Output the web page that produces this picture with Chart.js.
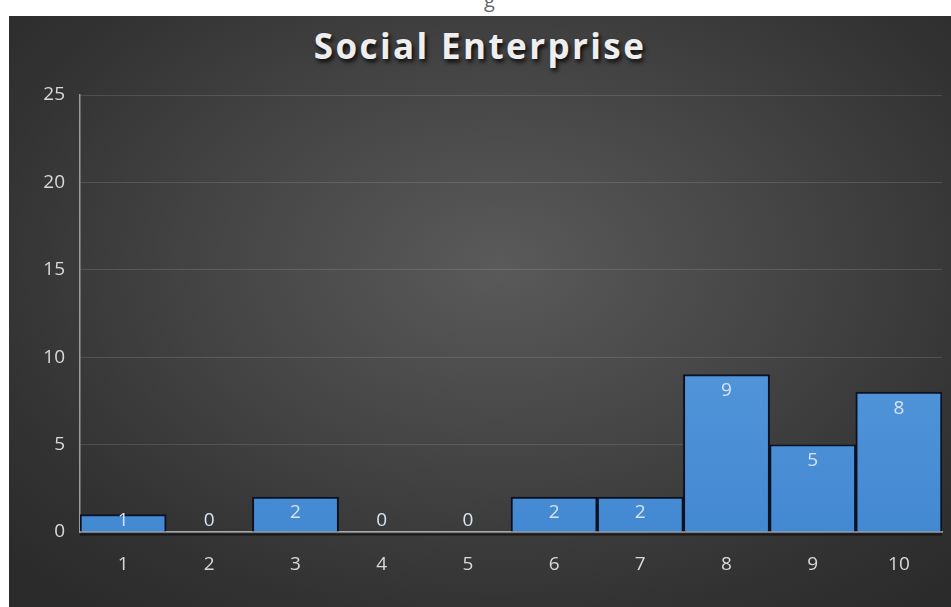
<!DOCTYPE html>
<html>
<head>
<meta charset="utf-8">
<script src="https://cdn.jsdelivr.net/npm/chart.js@4"></script>
<style>
  html, body { margin: 0; padding: 0; background: #fff; width: 951px; height: 607px; overflow: hidden; }
  #stray { position: absolute; left: 484px; top: -14px; font: 20px "Open Sans", sans-serif; color: #666; }
  #panel {
    position: absolute; left: 9px; top: 16px; width: 942px; height: 591px;
    background: radial-gradient(ellipse 70% 75% at 52% 42%, #5a5a5a 0%, #444 45%, #323232 80%, #2b2b2b 100%);
  }
  #title {
    position: absolute; left: 0; width: 100%; top: 6px; text-align: center;
    font: bold 35px "Open Sans", sans-serif; letter-spacing: 2.4px; color: #eeeeee;
    text-shadow: 2px 3px 4px rgba(0,0,0,0.85);
  }
  #wrap { position: absolute; left: 0; top: 0; width: 942px; height: 591px; }
</style>
</head>
<body>
<span id="stray">g</span>
<div id="panel">
  <div id="title">Social Enterprise</div>
  <div id="wrap"><canvas id="c"></canvas></div>
</div>
<script>
// ── Data ──────────────────────────────────────────────────────────────────────
const categories = ["1", "2", "3", "4", "5", "6", "7", "8", "9", "10"];
const counts     = [1, 0, 2, 0, 0, 2, 2, 9, 5, 8];
const yTicks     = [0, 5, 10, 15, 20, 25];

const TICK_COLOR = "#d9d9d9";
const TICK_FONT  = { size: 19, family: "'Open Sans', sans-serif" };

// ── Value labels inside bar tops (no datalabels plugin available) ────────────
const valueLabels = {
  id: "valueLabels",
  afterDatasetsDraw(chart) {
    const ctx = chart.ctx;
    const meta = chart.getDatasetMeta(0);
    ctx.save();
    // faint shadow under the category axis
    const a = chart.chartArea;
    ctx.strokeStyle = "rgba(0,0,0,0.55)";
    ctx.lineWidth = 2;
    ctx.beginPath();
    ctx.moveTo(a.left, a.bottom + 2.5);
    ctx.lineTo(a.right, a.bottom + 2.5);
    ctx.stroke();

    ctx.font = "19px 'Open Sans', sans-serif";
    ctx.fillStyle = "#d6e4f3";
    ctx.textAlign = "center";
    ctx.textBaseline = "middle";
    meta.data.forEach((bar, i) => {
      const y = Math.min(bar.y + 16, bar.base - 11);
      ctx.fillText(String(counts[i]), bar.x, y);
    });
    ctx.restore();
  }
};

new Chart(document.getElementById("c").getContext("2d"), {
  type: "bar",
  data: {
    labels: categories,
    datasets: [{
      data: counts,
      backgroundColor: ctx => {
        const area = ctx.chart.chartArea;
        if (!area) return "#4f94da";
        const g = ctx.chart.ctx.createLinearGradient(0, area.top, 0, area.bottom);
        g.addColorStop(0, "#68a6e6");
        g.addColorStop(1, "#4389d2");
        return g;
      },
      borderColor: "#0b1120",
      borderWidth: 2,
      barPercentage: 1,
      categoryPercentage: 1,
    }],
  },
  options: {
    responsive: true,
    maintainAspectRatio: false,
    animation: false,
    layout: { padding: { top: 79, right: 9, left: 0, bottom: 0 } },
    plugins: {
      legend: { display: false },
      tooltip: { enabled: false },
    },
    scales: {
      x: {
        grid: { display: false, drawTicks: false },
        border: { display: true, color: "#a8a8a8", width: 1.5 },
        ticks: { color: TICK_COLOR, font: TICK_FONT, padding: 21 },
        afterFit: s => { s.height = 75; },
      },
      y: {
        min: 0,
        max: 25,
        afterBuildTicks: s => { s.ticks = yTicks.map(v => ({ value: v })); },
        grid: { color: "rgba(255,255,255,0.13)", lineWidth: 1, drawTicks: false },
        border: { display: true, color: "#9c9c9c", width: 1.5 },
        ticks: { color: TICK_COLOR, font: TICK_FONT, padding: 15 },
        afterFit: s => { s.width = 71; },
      },
    },
  },
  plugins: [valueLabels],
});
</script>
</body>
</html>
